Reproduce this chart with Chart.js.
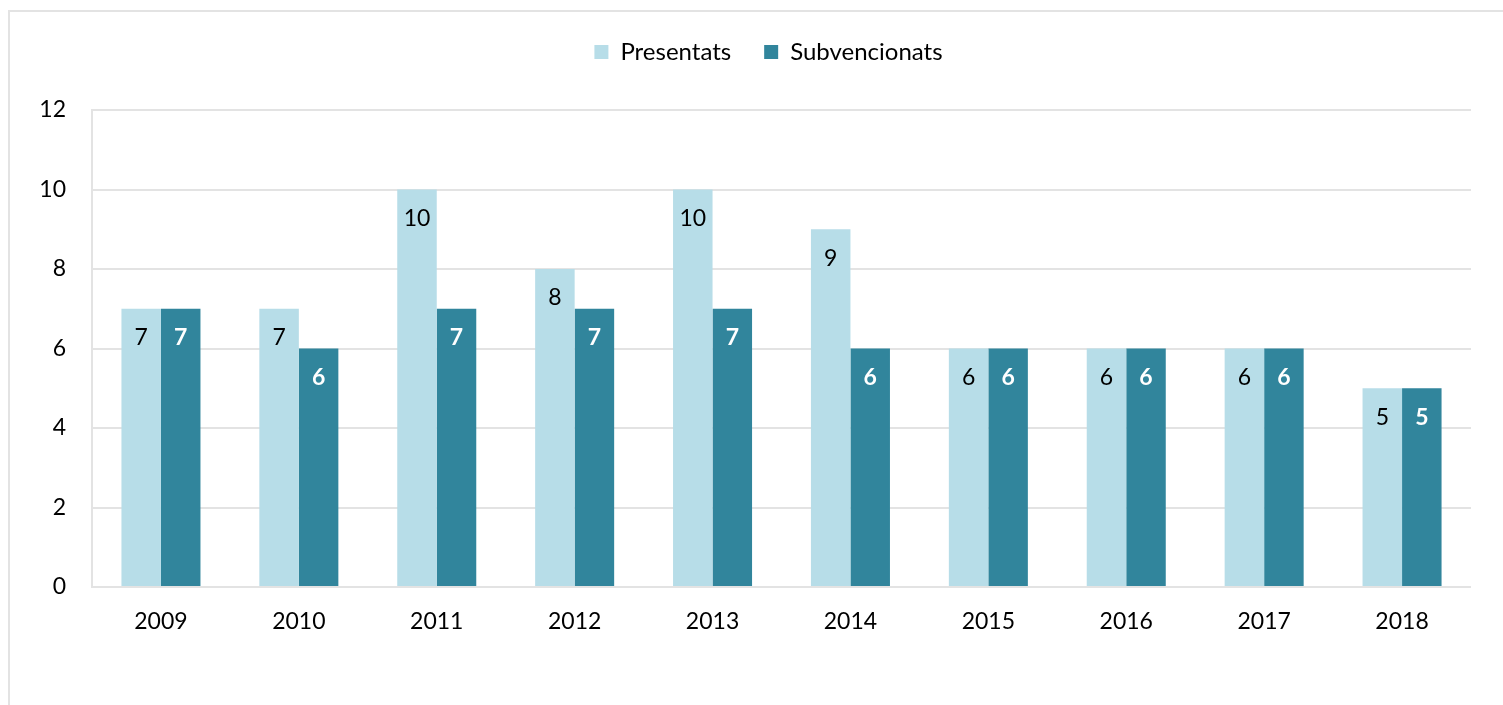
<!DOCTYPE html>
<html>
<head>
<meta charset="utf-8">
<script src="https://cdn.jsdelivr.net/npm/chart.js@4"></script>
<style>
  html, body { margin: 0; padding: 0; background: #fff; }
  #wrap { position: relative; width: 1503px; height: 705px; }
  #frame { position: absolute; left: 8px; top: 10px; right: 0; bottom: -5px;
           border-left: 2px solid #e3e3e3; border-top: 2px solid #e3e3e3; }
  canvas { position: absolute; left: 0; top: 0; }
</style>
</head>
<body>
<div id="wrap">
  <div id="frame"></div>
  <canvas id="grafic" width="1503" height="705"></canvas>
</div>
<script>
const anys = ["2009", "2010", "2011", "2012", "2013", "2014", "2015", "2016", "2017", "2018"];
const presentats = [7, 7, 10, 8, 10, 9, 6, 6, 6, 5];
const subvencionats = [7, 6, 7, 7, 7, 6, 6, 6, 6, 5];
const yTicks = [0, 2, 4, 6, 8, 10, 12];

const fontFamily = "Lato, 'Open Sans', sans-serif";

// etiquetes de valor dins de cada barra
const valorsPlugin = {
  id: "valors",
  afterDatasetsDraw(chart) {
    const ctx = chart.ctx;
    ctx.save();
    ctx.textAlign = "center";
    ctx.textBaseline = "middle";
    chart.data.datasets.forEach((ds, i) => {
      const meta = chart.getDatasetMeta(i);
      ctx.font = (i === 1 ? "bold " : "") + "23px " + fontFamily;
      ctx.fillStyle = i === 1 ? "#ffffff" : "#000000";
      meta.data.forEach((bar, j) => {
        ctx.fillText(String(ds.data[j]), bar.x, bar.y + 29);
      });
    });
    ctx.restore();
  }
};

// llegenda: alçada fixa i una mica desplaçada a la dreta
const legendFit = {
  id: "legendFit",
  beforeInit(chart) {
    const origFit = chart.legend.fit;
    chart.legend.fit = function () {
      origFit.call(this);
      this.height = 103;
    };
  },
  afterLayout(chart) {
    chart.legend.left += 33;
    chart.legend.right += 33;
  }
};

new Chart(document.getElementById("grafic").getContext("2d"), {
  type: "bar",
  data: {
    labels: anys,
    datasets: [
      {
        label: "Presentats",
        data: presentats,
        backgroundColor: "#b7dde8",
        categoryPercentage: 0.573,
        barPercentage: 1.0
      },
      {
        label: "Subvencionats",
        data: subvencionats,
        backgroundColor: "#31859c",
        categoryPercentage: 0.573,
        barPercentage: 1.0
      }
    ]
  },
  plugins: [valorsPlugin, legendFit],
  options: {
    responsive: false,
    animation: false,
    layout: { padding: { top: 7, right: 32, left: 0, bottom: 0 } },
    plugins: {
      tooltip: { enabled: false },
      legend: {
        position: "top",
        align: "center",
        labels: {
          boxWidth: 14,
          boxHeight: 14,
          padding: 33,
          color: "#000",
          font: { family: fontFamily, size: 24 }
        }
      }
    },
    scales: {
      x: {
        grid: { display: false, drawTicks: false },
        border: { display: false },
        afterFit(scale) { scale.height = 118; },
        ticks: {
          padding: 21,
          color: "#000",
          font: { family: fontFamily, size: 23 }
        }
      },
      y: {
        min: 0,
        max: 12,
        afterFit(scale) { scale.width = 92; },
        afterBuildTicks(scale) { scale.ticks = yTicks.map(v => ({ value: v })); },
        grid: { color: "#e3e3e3", lineWidth: 2, drawTicks: false },
        border: { display: true, color: "#e3e3e3", width: 2 },
        ticks: {
          padding: 26,
          color: "#000",
          font: { family: fontFamily, size: 23 }
        }
      }
    }
  }
});
</script>
</body>
</html>
